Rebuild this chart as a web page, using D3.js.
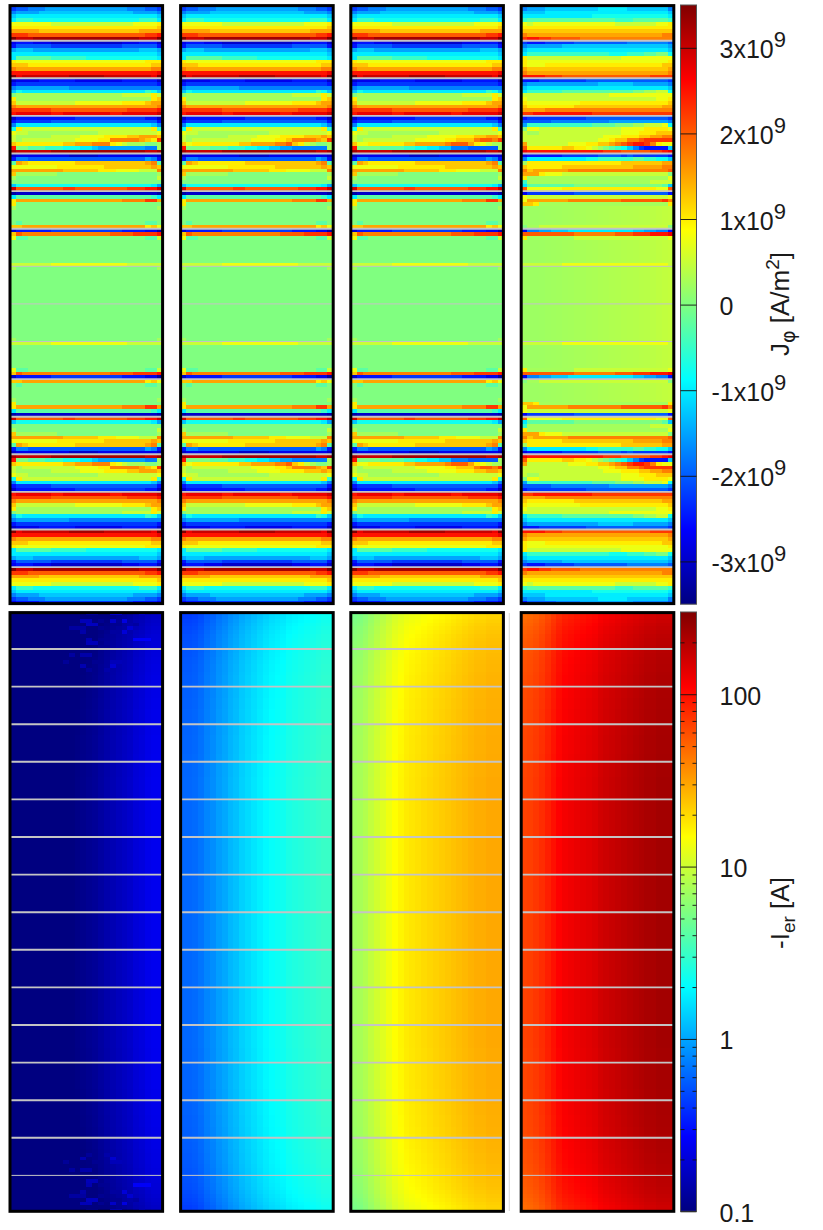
<!DOCTYPE html>
<html>
<head>
<meta charset="utf-8">
<script src="https://cdnjs.cloudflare.com/ajax/libs/d3/7.8.5/d3.min.js"></script>
<style>
	html, body {margin: 0; padding: 0; background: #fff;}
	text {font-family: "Liberation Sans", Arial, sans-serif; fill: #1a1a1a;}
</style>
</head>
<body>
<div id="chart"></div>
<script>
// J_phi cells, top half of a panel, one letter per cell: a = -3.5e9, o = 0, C = 3.5e9 (steps of 0.25e9)
const jLevels = 'abcdefghijklmnopqrstuvwxyzABC';
const flatRow = 'o oooooo oooooo oooooo oooooo o';

// quiet middle rows of the last panel, drifting slowly from left to right, in units of 1e9
const lateRow = [.2, .2, .2, .21, .22, .23, .24, .25, .26, .27, .28, .29, .3, .31, .32, .33, .34, .35, .36, .37, .38, .39, .41, .43, .45, .46];

const jRowsEarly = [
	'd eeeeff ffffff ffffff ffeeee d',
	'f gghhhi iiiiii iiiiii ihhhgg f',
	'h iiiijj jjjjjj jjjjjj jjiiii h',
	'j kkkkkk kkkkkk kkkkkk kkkkkk j',
	'k mmmlll llllll llllll lllmmm k',
	'r rrrrrr qqqqqq qqqqqq qqrrrr s',
	's ssssss ssssss ssssss ssssss t',
	'u uuuutt tttttt tttttt tttuuu u',
	'x xxwwww wwwwww wwwwww wwwwxx y',
	'C AAABBB BBBBBB BBBBBB BBBAAA C',

	'd eeeddd cccccc cccccc dddeee c',
	'e gggggg ffffff ffffff gggggg e',
	'i jjjiii iiiiii iiiiii iiijjj i',
	'k kkkkkk kkkkkk kkkkkk kkkkkk j',
	'k nnnnnn mmmmmm llllll llllll k',
	's rrrrrr rrrrrr rrrrrr rrrrss s',
	't ttssss ssssss ssssss ssssst t',
	'v uuuuuu uuuuuu uuuuuu uuuuuv v',
	'y yyyyyy yyyyyy yyyyyy yyyyyy z',
	'C zAAAAA AAABBB BBBAAA AAAAAz C',

	'c ddddee eeeedd dddddd eeeeee c',
	'e ffffff ffffff ffffff ffffff e',
	'h iiiiii iiihhh hhhhhh hhhhhh h',
	'j lkkkkk kkkkkk kkkkkk kkkkml j',
	'o pppppp pppppp pppppp qqqqqs q',
	's pppppp pppppp pppppp ppppps t',
	't qqqqqq qqqqrr rrrrrr sssstu u',
	'v uuuuuu uuuuuu uuuuuu uuuuuu v',
	'x xxxxxx wwwwww wwwwww wxxxxx y',
	'y zzzzzz yyzzzz zzzzyy zzzzzz A',

	'c eeeeee eeeeff ffffff ffffee c',
	'e ffffff gggggg gggggg gggggg e',
	'h kkkkkk kkkkkk kkkkkk kkkkkj h',
	'l sqqqqq qqqqqq qqqqqq qqqqqs m',
	'r qqpppp pppppp ppqqqq qqqqqq r',
	'q pppppp qqqqqr rrrsss sttuuu t',
	'q pqqqqq qqqqrr rrssvv vvvuts x',
	't ssssss ssttuu uvvvsr qpppoo p',
	'y oonnnm mmlllk kjiiii iiiihh p',
	'B AAAAAA BBBBBB BBBBBB BBBBAA B',

	'c dddddd dddccc ccdddd dddddd c',
	'e hhgggg gggggg gggggg ggggih e',
	'n utssss sssstt tttttt ttttuv n',
	'r rrrrrr rsssss sssttt tttttu t',
	'u uuuuuu uutttt ttsssr rrrqqq v',
	't pppppp pooooo oooooo oooooo p',
	'p oooooo oooooo oooooo oooooo q',
	flatRow,
	'j llllll llllll llllll lllllk i',
	'A wwwwww wwxxww wwwwww wxxxyy A',

	'b cccccc cccccc cccccc cccccc b',
	'k nnnnnn nnnnnn nnnnnn nnnnnm k',
	's uuuuuu uuuuuu uuuuuu vvvvxx u',
	's oooooo oooooo oooooo oooooo o',
	'p oooooo oooooo oooooo oooooo p',
	flatRow,
	flatRow,
	flatRow,
	'o nooooo oooooo oooooo oooonn o',
	't tuuuuu uuuuuu uuuuuu uuuust r',

	'c eeeeee ffffff ffffff eeeedd b',
	't wvvvvv vvvvvv vvvvww wwxxxx y',
	'r nnoooo oooooo oooooo oooonn q',
	flatRow,
	flatRow,
	flatRow,
	flatRow,
	flatRow,
	flatRow,
	'q qqqqqq rrrrrr rrrrrr rqqqqq q',

	'p oooooo oooooo oooooo oooooo p',
	flatRow,
	flatRow,
	flatRow,
	flatRow,
	flatRow,
	flatRow,
	flatRow,
	flatRow,
	flatRow
];

// rows 35..38 of the panels 2 and 3, the hot spot sits further right there
const jHotRowsSecond = [
	'q pppppp pqqqqq rrrrss sstttu t',
	'q pqqqqq qqqqqr rrrsst vvvvut x',
	't rsssss sssttu uuuvvw tsqpoo p',
	'y oooonn nmmmll kkjjii hhhhhh p'
];
const jHotRowsThird = [
	'q pppppp qqqqqq rrrrrs ssttuu t',
	'q pqqqqq qqqqrr rrrsst ttvwwv x',
	't rrssss ssttuu uuuvww wusrqp p',
	'y oooonn nnmmll kkjjhh hggggg p'
];

const jRowsLate = [
	'e gggggh hhhiii iiiiii hhhhhh g',
	'h iiijjj jjjjjj kkkkkj jjjjjj h',
	'j jjjkkk kkkkkk kkkkkk kkkkkk j',
	'k kkkkkk kkkkkl llllll llllll k',
	'm nnnnnn nnnnnn nnnmmm nnnnnn m',
	'r qrrrrr rrrrrr rrrqqq qqqqrr s',
	's ssssss ssssss ssssss ssssss s',
	't tttttt tttttt tttttt tttttt t',
	'v uuuuuu uuuuuu uuuuuu uuuuuv v',
	'x yyxxww wwwvvv vvvvvv vvvvvv v',

	'f eeefff ffgggg gggggh hhhhhh g',
	'h iiiiii jjjjjj jjjjjj jjjjjj i',
	'j kkkkkk kkkkkk kkkkkk kkkkkk j',
	'k mmmmmm mmmmmm mmlllm mmnnoo l',
	's qqqqqq qqqqqq qqqqrr rrrrrr r',
	's rrrrrr rrrrrr rrrrrr rrrrrr s',
	's rrrsss ssssss ssssss ssssst t',
	'u tttttt tttttt tttttt tttttt u',
	'v uuuuuu uuuuuu uuuuuu uuuuuu v',
	'y yyyxxx wwwwww wwwwww wwwxxx x',

	'e eeffff ffffgg gggggg gggggg f',
	'h iiiiii iiiiii jjjjjj iiiiii h',
	'j kkkkkk kkkkkk kkkkkk kkkkkk j',
	'k mmmmmm nnnnnn nnnnnn ooppqq l',
	'q qqqqqq qqqqqq qqrrrr rrrrrr r',
	'r qqqqqq qqqqqq qqqqqq qqqqrr s',
	's rrrrrr rrrsss ssssss ssssss t',
	't ssssss sstttt tttttt tttttu u',
	'u uuuvvv vvvvvv vvvvvv vvvvvv v',
	'x xyyyyy yyyyyx xxxxxx xxxxxx x',

	'e ffffff ffffgg gggggg gggggg f',
	'g gggghh hhhhhh hhiiii iiiiii h',
	'i mmmmmm mmmmmn nnnooo ppqqqr l',
	'o rrqqqq qqqqqq qqqqrr rrssss r',
	'q ppqqqq qqqqqq qqqqrr rssstt t',
	'q qqqqqq qqqqqq qrrrss sttuuv v',
	'q qqqqqq qqqqqq rrsttv vwxxxx x',
	'u qqqqqq qrrrss ttuvwx yyxvsr r',
	'w ssssss ttssrq ponmlj hfeeee j',
	'z yyyyyy yyyyyy yxxxww wwwxxy z',

	'd eeeeee ffffff ggggfg ffffff e',
	'h kkkkkk kkkkll mmmmmm nnmmll j',
	'p ssssss ssssss sssstt tttttu u',
	't ssssss tttttt tttttt uuuuuv v',
	'v tuuuuu uvvvvv vvvvvv vvvvvv w',
	'u uusrrr qqqqqq qqqqqq qqqqqq o',
	's pppppp pppppp pppppp pppppp r',
	'm pppppp pppppp pppppp pppqqq q',
	'k nnnnnn nnoooo oooooo ooooon j',
	'w rrrrrr ssssss ssssss ssssrr w',

	'd ffffff ffgggg gggggg gggggg e',
	'r qqqqqq qqqqqq qqqqqq qqqqqq r',
	'r uuuuuu uvvvvv vvvvww wwwwwx v',
	't tspppp pppppp pppppp pppppp s',
	lateRow,
	lateRow,
	lateRow,
	lateRow,
	lateRow,
	'o ppqqqq qqqqqq qqqqqq qqqqqq o',

	'd hhiijj jkkkkk kkkkkk jjiihh e',
	'w wwwwww wwvvvv vvvwww xxxyyy z',
	's pppppp ppqqqq qqqqqq qqqqqq r',
	lateRow,
	lateRow,
	lateRow,
	lateRow,
	lateRow,
	lateRow,
	'q qqqqqq rrrrrr rrrrrr rrrrrr q',

	lateRow,
	lateRow,
	lateRow,
	lateRow,
	lateRow,
	lateRow,
	lateRow,
	lateRow,
	lateRow,
	lateRow
];

// -I_er in A across the columns, at mid height
const ierFirst = [.1, .1, .1, .1, .1, .1, .1, .1, .1, .1, .1, .105, .11, .115, .12, .13, .14, .15, .16, .17, .18, .2, .21, .23, .24, .24];
const ierSecond = [.61, .61, .63, .68, .77, .83, .94, 1.02, 1.15, 1.24, 1.4, 1.52, 1.65, 1.79, 1.94, 2.09, 2.18, 2.27, 2.46, 2.56, 2.66, 2.77, 2.88, 3, 3.13, 3.13];
const ierThird = [7.25, 7.54, 8.17, 9.21, 10.4, 11.7, 13.2, 14.9, 16.1, 17.5, 18.2, 18.9, 19.7, 20.5, 21.4, 22.2, 23.1, 24.1, 25, 26.1, 27.2, 28.3, 28.3, 29.4, 29.4, 29.4];
const ierFourth = [66, 68, 72, 78, 87, 98, 110, 119.5, 124, 130, 135, 140, 146, 158, 165, 171, 178, 186, 193, 201, 209, 218, 218, 227, 227, 227];

// how the current falls off towards the top and bottom, top half of the rows
const ierRowGain = [
	.7, .72, .74, .76, .78, .8, .82, .83, .84, .85,
	.86, .87, .88, .89, .9, .9, .91, .92, .92, .93,
	.93, .94, .94, .95, .95, .95, .96, .96, .96, .97,
	.97, .97, .97, .98, .98, .98, .98, .98, .99, .99,
	.99, .99, .99, .99, 1, 1, 1, 1, 1, 1,
	1, 1, 1, 1, 1, 1, 1, 1, 1, 1,
	1, 1, 1, 1, 1, 1, 1, 1, 1, 1,
	1, 1, 1, 1, 1, 1, 1, 1, 1, 1
];

// [row, column, current] noisy cells of the first panel
const ierSpeckle = [
	[0, 13, .129], [0, 14, .129], [0, 17, .2], [0, 18, .2], [0, 22, .188],
	[2, 12, .155], [2, 13, .155], [2, 15, .114], [2, 17, .177], [2, 19, .214],
	[3, 13, .165], [3, 14, .165], [3, 18, .114], [3, 21, .13],
	[4, 10, .129], [4, 11, .129], [4, 12, .129], [4, 15, .114], [4, 20, .19],
	[5, 12, .138], [5, 17, .129], [5, 19, .2],
	[7, 13, .146], [7, 15, .114], [7, 21, .257], [7, 22, .257], [7, 23, .257],
	[8, 13, .155], [8, 14, .155], [8, 16, .12],
	[9, 15, .114], [9, 16, .114],
	[11, 10, .129], [11, 12, .138], [11, 13, .138],
	[13, 9, .121], [13, 14, .114], [13, 15, .114], [13, 17, .155], [13, 18, .155],
	[14, 12, .146], [14, 17, .188],
	[15, 13, .121], [15, 16, .138]
];

// colour bars
const jTicks = [3e9, 2e9, 1e9, 0, -1e9, -2e9, -3e9];
const jTickLabels = ['3x10', '2x10', '1x10', '0', '-1x10', '-2x10', '-3x10'];
const jTickExponent = '9';
const ierTicks = [.1, 1, 10, 100];
const ierTickLabels = ['0.1', '1', '10', '100'];
const ierMinorTicks = [.2, .3, .4, .5, .6, .7, .8, .9, 2, 3, 4, 5, 6, 7, 8, 9, 20, 30, 40, 50, 60, 70, 80, 90, 200];

const jetStops = [0, 1 / 8, 3 / 8, 5 / 8, 7 / 8, 1];
const jetColors = ['#000080', '#0000ff', '#00ffff', '#ffff00', '#ff0000', '#800000'];

const WIDTH = 823, HEIGHT = 1230;
const panelLeft = [10, 180.6, 350.8, 521.2];
const panelWidth = 152.6;
const topBox = {y0: 5.6, y1: 603.6, grid0: 3.1, grid1: 604.7};
const bottomBox = {y0: 612.6, y1: 1211.3, grid0: 611.4, grid1: 1213};
const barBox = {x: 680.5, width: 16};
const columns = d3.range(26);
const rows = d3.range(160);

const jet = d3.scaleLinear().domain(jetStops).range(jetColors).clamp(true);
const jValue = d3.scaleLinear().domain([0, jLevels.length - 1]).range([-3.5e9, 3.5e9]);
const jColor = d3.scaleLinear().domain([-3.5e9, 3.5e9]).range([0, 1]).clamp(true);
const ierColor = d3.scaleLog().domain([.1, 300]).range([0, 1]).clamp(true);

const _mirror = (half) => half.concat(half.slice().reverse());
const _withHotRows = (base, hot) => base.map((row, i) => (i >= 35 && i < 39) ? hot[i - 35] : row);

const _rowValues = (row) => {
	if (typeof row === 'string') {
		return row.replace(/ /g, '').split('').map(c => jValue(jLevels.indexOf(c)));
	}
	return row.map(v => v * 1e9);
};

const _jCells = (half) => {
	const out = [];
	_mirror(half).forEach((row, r) => {
		_rowValues(row).forEach((v, col) => {
			out.push({r, col, color: jet(jColor(v))});
		});
	});
	return out;
};

const _ierCells = (profile, speckle) => {
	const gain = _mirror(ierRowGain);
	const noise = new Map();
	speckle.forEach(([r, col, v]) => {
		noise.set(r + '_' + col, v);
		noise.set((159 - r) + '_' + col, v);
	});
	const out = [];
	rows.forEach(r => columns.forEach(col => {
		const key = r + '_' + col;
		const v = noise.has(key) ? noise.get(key) : profile[col] * gain[r];
		out.push({r, col, color: jet(ierColor(v))});
	}));
	return out;
};

const svg = d3.select('#chart').append('svg')
	.attr('width', WIDTH)
	.attr('height', HEIGHT)
	.style('display', 'block');

const defs = svg.append('defs');

const gradient = defs.append('linearGradient')
	.attr('id', 'jet-bar')
	.attr('x1', 0).attr('x2', 0)
	.attr('y1', 1).attr('y2', 0);
gradient.selectAll('stop')
	.data(jetStops)
	.enter().append('stop')
	.attr('offset', d => d)
	.attr('stop-color', (d, i) => jetColors[i]);

const _drawPanel = (options) => {
	const {id, left, box, cells, thinGaps} = options;
	const x = d3.scaleBand().domain(columns).range([left, left + panelWidth]);
	const y = d3.scaleBand().domain(rows).range([box.grid0, box.grid1]);

	defs.append('clipPath').attr('id', id)
		.append('rect')
		.attr('x', left)
		.attr('y', box.y0)
		.attr('width', panelWidth)
		.attr('height', box.y1 - box.y0);

	const g = svg.append('g');
	g.append('g')
		.attr('clip-path', `url(#${id})`)
		.selectAll('rect')
		.data(cells)
		.enter().append('rect')
		.attr('x', d => x(d.col))
		.attr('y', d => y(d.r))
		.attr('width', x.bandwidth() + .4)
		.attr('height', y.bandwidth() + .4)
		.attr('fill', d => d.color)
		.attr('shape-rendering', 'crispEdges');

	// grey separators every ten rows
	g.selectAll('line')
		.data(d3.range(10, 160, 10))
		.enter().append('line')
		.attr('x1', left)
		.attr('x2', left + panelWidth)
		.attr('y1', d => y(d))
		.attr('y2', d => y(d))
		.attr('stroke', '#c4c4c4')
		.attr('stroke-width', d => thinGaps.includes(d) ? 1 : 1.9);

	g.append('rect')
		.attr('x', left)
		.attr('y', box.y0)
		.attr('width', panelWidth)
		.attr('height', box.y1 - box.y0)
		.attr('fill', 'none')
		.attr('stroke', '#000')
		.attr('stroke-width', 3);
};

const jPanels = [
	jRowsEarly,
	_withHotRows(jRowsEarly, jHotRowsSecond),
	_withHotRows(jRowsEarly, jHotRowsThird),
	jRowsLate
];
const ierPanels = [ierFirst, ierSecond, ierThird, ierFourth];

jPanels.forEach((half, i) => _drawPanel({
	id: 'top-' + i,
	left: panelLeft[i],
	box: topBox,
	cells: _jCells(half),
	thinGaps: [70, 80, 90]
}));
ierPanels.forEach((profile, i) => _drawPanel({
	id: 'bottom-' + i,
	left: panelLeft[i],
	box: bottomBox,
	cells: _ierCells(profile, i === 0 ? ierSpeckle : []),
	thinGaps: [150]
}));

svg.append('line')
	.attr('x1', 509.3).attr('x2', 509.3)
	.attr('y1', 613).attr('y2', 1211)
	.attr('stroke', '#dcdcdc')
	.attr('stroke-width', 1.2);

const _drawBar = (y0, y1) => {
	svg.append('rect')
		.attr('x', barBox.x)
		.attr('y', y0)
		.attr('width', barBox.width)
		.attr('height', y1 - y0)
		.attr('fill', 'url(#jet-bar)')
		.attr('stroke', '#555')
		.attr('stroke-width', 1);
};

const _labelTicks = (axisGroup, labels, exponent) => {
	axisGroup.selectAll('.tick text').each(function (d, i) {
		const label = labels[i];
		const t = d3.select(this)
			.attr('x', (label[0] === '-' ? 711.5 : 719.5) - barBox.x)
			.attr('dy', '.4em')
			.attr('text-anchor', 'start')
			.style('font-size', '25px')
			.text(label);
		if (exponent && label !== '0') {
			t.append('tspan')
				.attr('dy', '-.5em')
				.style('font-size', '22px')
				.text(exponent);
		}
	});
};

const _cleanAxis = (g) => {
	g.select('.domain').remove();
	g.selectAll('line').attr('stroke', '#111').attr('stroke-width', .9);
};

// J_phi bar
const jBarScale = d3.scaleLinear().domain([-3.5e9, 3.5e9]).range([topBox.y1 + .6, topBox.y0 - .6]);
_drawBar(topBox.y0 - .6, topBox.y1 + .6);
const jAxis = svg.append('g')
	.attr('transform', `translate(${barBox.x}, 0)`)
	.call(d3.axisRight(jBarScale).tickValues(jTicks).tickSize(barBox.width));
_cleanAxis(jAxis);
_labelTicks(jAxis, jTickLabels, jTickExponent);

// -I_er bar
const ierBarScale = d3.scaleLog().domain([.1, 300]).range([bottomBox.y1, bottomBox.y0 - .6]);
_drawBar(bottomBox.y0 - .6, bottomBox.y1);
const ierAxis = svg.append('g')
	.attr('transform', `translate(${barBox.x}, 0)`)
	.call(d3.axisRight(ierBarScale).tickValues(ierTicks).tickFormat((d, i) => ierTickLabels[i]).tickSize(barBox.width));
_cleanAxis(ierAxis);
_labelTicks(ierAxis, ierTickLabels, null);

[d3.axisRight(ierBarScale).tickSize(4), d3.axisLeft(ierBarScale).tickSize(4)].forEach((axis, i) => {
	const minor = svg.append('g')
		.attr('transform', `translate(${barBox.x + i * barBox.width}, 0)`)
		.call(axis.tickValues(ierMinorTicks).tickFormat(''));
	_cleanAxis(minor);
});

const _axisTitle = (cx, cy) => svg.append('text')
	.attr('transform', `translate(${cx}, ${cy}) rotate(-90)`)
	.attr('text-anchor', 'middle')
	.style('font-size', '26px');

const jTitle = _axisTitle(789, 304);
jTitle.append('tspan').text('J');
jTitle.append('tspan').attr('dy', 6).style('font-size', '19px').attr('font-family', 'DejaVu Sans').text('φ');
jTitle.append('tspan').attr('dy', -6).text(' [A/m');
jTitle.append('tspan').attr('dy', -10).style('font-size', '19px').text('2');
jTitle.append('tspan').attr('dy', 10).text(']');

const ierTitle = _axisTitle(789, 913);
ierTitle.append('tspan').text('-I');
ierTitle.append('tspan').attr('dy', 6).style('font-size', '19px').text('er');
ierTitle.append('tspan').attr('dy', -6).text(' [A]');
</script>
</body>
</html>
